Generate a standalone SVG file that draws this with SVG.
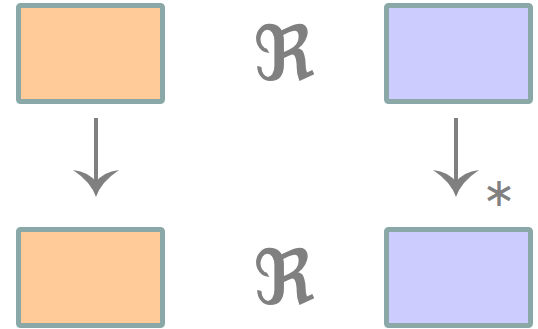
<svg xmlns="http://www.w3.org/2000/svg" width="538" height="329" viewBox="0 0 538 329">
<style>
.box{stroke:#8aa8a8;stroke-width:5}
.orange{fill:#ffcc99}
.blue{fill:#ccccff}
.frak{font-family:"DejaVu Serif","DejaVu Sans",serif;font-size:76px;font-weight:bold;fill:#808080;text-anchor:middle}
.shaft{stroke:#808080;stroke-width:4;fill:none}
.head{fill:#808080}
.star{font-family:"DejaVu Sans",sans-serif;font-size:40px;fill:#808080;text-anchor:middle}
</style>
<rect width="538" height="329" fill="#ffffff"/>
<g id="nodeA"><rect class="box orange" x="18.5" y="5.5" width="144" height="96" rx="2"/></g>
<g id="nodeB"><rect class="box blue" x="386.5" y="5.5" width="144" height="96" rx="2"/></g>
<g id="nodeC"><rect class="box orange" x="18.5" y="229.5" width="144" height="96" rx="2"/></g>
<g id="nodeD"><rect class="box blue" x="386.5" y="229.5" width="144" height="96" rx="2"/></g>
<g id="rel1"><text class="frak" x="284" y="80">ℜ</text></g>
<g id="rel2"><text class="frak" x="284" y="304">ℜ</text></g>
<g id="connectors">
<line class="shaft" x1="96" y1="118" x2="96" y2="190"/>
<path class="head" d="M96,197 Q91,182 73,170 Q89,172 96,182 Q103,172 119,170 Q101,182 96,197 Z"/>
<line class="shaft" x1="456" y1="118" x2="456" y2="190"/>
<path class="head" d="M456,197 Q451,182 433,170 Q449,172 456,182 Q463,172 479,170 Q461,182 456,197 Z"/>
<text class="star" x="499" y="206">∗</text>
</g>
</svg>
